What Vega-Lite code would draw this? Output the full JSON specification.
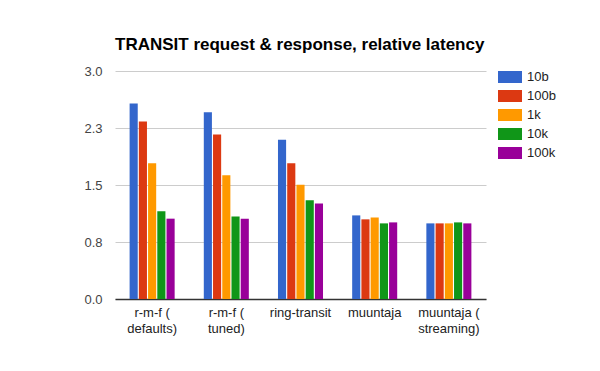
{
  "$schema": "https://vega.github.io/schema/vega-lite/v6.json",
  "autosize": "none",
  "width": 371,
  "height": 228,
  "padding": {"left": 115, "top": 71, "right": 114, "bottom": 72},
  "background": "white",
  "title": {"text": "TRANSIT request & response, relative latency", "anchor": "start", "frame": "group", "font": "Liberation Sans", "fontSize": 17, "fontWeight": "bold", "color": "#000", "offset": 11},
  "data": {"values": [
    {"category": "r-m-f ( defaults)", "size": "10b", "latency": 2.574},
    {"category": "r-m-f ( defaults)", "size": "100b", "latency": 2.337},
    {"category": "r-m-f ( defaults)", "size": "1k", "latency": 1.785},
    {"category": "r-m-f ( defaults)", "size": "10k", "latency": 1.153},
    {"category": "r-m-f ( defaults)", "size": "100k", "latency": 1.057},
    {"category": "r-m-f ( tuned)", "size": "10b", "latency": 2.456},
    {"category": "r-m-f ( tuned)", "size": "100b", "latency": 2.166},
    {"category": "r-m-f ( tuned)", "size": "1k", "latency": 1.627},
    {"category": "r-m-f ( tuned)", "size": "10k", "latency": 1.087},
    {"category": "r-m-f ( tuned)", "size": "100k", "latency": 1.057},
    {"category": "ring-transit", "size": "10b", "latency": 2.096},
    {"category": "ring-transit", "size": "100b", "latency": 1.785},
    {"category": "ring-transit", "size": "1k", "latency": 1.504},
    {"category": "ring-transit", "size": "10k", "latency": 1.298},
    {"category": "ring-transit", "size": "100k", "latency": 1.258},
    {"category": "muuntaja", "size": "10b", "latency": 1.100},
    {"category": "muuntaja", "size": "100b", "latency": 1.048},
    {"category": "muuntaja", "size": "1k", "latency": 1.074},
    {"category": "muuntaja", "size": "10k", "latency": 0.995},
    {"category": "muuntaja", "size": "100k", "latency": 1.008},
    {"category": "muuntaja ( streaming)", "size": "10b", "latency": 0.995},
    {"category": "muuntaja ( streaming)", "size": "100b", "latency": 0.995},
    {"category": "muuntaja ( streaming)", "size": "1k", "latency": 0.995},
    {"category": "muuntaja ( streaming)", "size": "10k", "latency": 1.008},
    {"category": "muuntaja ( streaming)", "size": "100k", "latency": 0.995}
  ]},
  "mark": {"type": "bar"},
  "encoding": {
    "x": {
      "field": "category", "type": "nominal", "sort": null,
      "scale": {"paddingInner": 0.393, "paddingOuter": 0.197},
      "axis": {
        "title": null, "labelAngle": 0, "ticks": false,
        "domainColor": "#333", "domainWidth": 1.5,
        "labelFont": "Liberation Sans", "labelFontSize": 13, "labelColor": "#222",
        "labelPadding": 7, "labelLineHeight": 16,
        "labelExpr": "indexof(datum.label, '( ') > 0 ? [substring(datum.label, 0, indexof(datum.label, '( ') + 1), substring(datum.label, indexof(datum.label, '( ') + 2)] : datum.label"
      }
    },
    "xOffset": {
      "field": "size", "type": "nominal",
      "scale": {"domain": ["10b", "100b", "1k", "10k", "100k"], "paddingInner": 0.12}
    },
    "y": {
      "field": "latency", "type": "quantitative",
      "scale": {"domain": [0, 3], "nice": false},
      "axis": {
        "title": null, "values": [0, 0.75, 1.5, 2.25, 3], "format": ".1f",
        "domain": false, "ticks": false, "gridColor": "#ccc",
        "labelFont": "Liberation Sans", "labelFontSize": 13, "labelColor": "#444",
        "labelPadding": 13
      }
    },
    "color": {
      "field": "size", "type": "nominal",
      "scale": {"domain": ["10b", "100b", "1k", "10k", "100k"], "range": ["#3366cc", "#dc3912", "#ff9900", "#109618", "#990099"]},
      "legend": {
        "title": null, "orient": "none", "legendX": 383, "legendY": -6,
        "symbolType": "M-1,-0.5H1V0.5H-1Z", "symbolSize": 576, "symbolStrokeWidth": 0, "symbolOpacity": 1,
        "labelFont": "Liberation Sans", "labelFontSize": 13, "labelColor": "#222",
        "labelOffset": 5, "rowPadding": -5
      }
    }
  },
  "config": {"view": {"stroke": null}}
}
